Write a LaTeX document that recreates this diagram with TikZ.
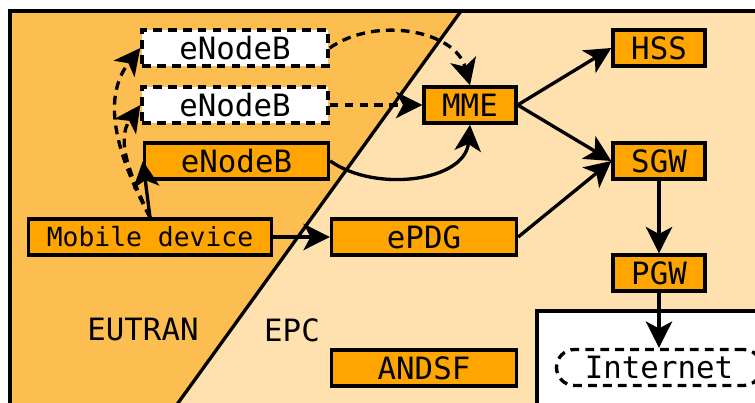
\documentclass[tikz,border=0pt]{standalone}
\usepackage{fontspec}
\setmainfont{DejaVu Sans Mono}
\usepackage{xcolor}
\usetikzlibrary{arrows.meta,positioning}

\definecolor{eutranbg}{RGB}{252,190,80}
\definecolor{epcbg}{RGB}{255,225,175}
\definecolor{nodeorange}{RGB}{255,165,0}

\begin{document}
\begin{tikzpicture}[
  >={Stealth[length=15pt,width=15pt,inset=4pt]},
  box/.style={draw, line width=1.9pt, fill=nodeorange, inner sep=0pt,
              minimum height=0.72cm, font=\fontsize{17.5}{20}\selectfont},
  ghost/.style={box, fill=white, dash pattern=on 5pt off 3.5pt},
  link/.style={->, line width=1.9pt},
  dlink/.style={link, dash pattern=on 5pt off 3.5pt},
  lbl/.style={font=\fontsize{17.5}{20}\selectfont}
]

%% ── Canvas: 1 px = 0.02 cm ───────────────────────────────────────────────────
% frame: left x=0.20, top y=7.84 ; diagonal (9.22,7.84) -- (3.20,-0.50)
\useasboundingbox (0,0) rectangle (15.10,8.06);
\clip (0,0) rectangle (15.10,8.06);

%% ── Domains ──────────────────────────────────────────────────────────────────
\fill[eutranbg] (0.20,-0.50) -- (0.20,7.84) -- (9.22,7.84) -- (3.20,-0.50) -- cycle;
\fill[epcbg]    (9.22,7.84) -- (15.60,7.84) -- (15.60,-0.50) -- (3.20,-0.50) -- cycle;
\draw[line width=1.9pt] (9.22,7.84) -- (3.20,-0.50);
\filldraw[fill=white, line width=1.9pt] (10.74,-0.50) rectangle (15.60,1.84);
\draw[line width=1.9pt] (0.20,-0.50) rectangle (15.60,7.84);

\node[lbl] (eutran) at (2.86,1.46) {EUTRAN};
\node[lbl] (epc)    at (5.84,1.46) {EPC};

%% ── Radio side ───────────────────────────────────────────────────────────────
\node[ghost, minimum width=3.72cm] (enbA) at (4.70,7.10) {eNodeB};
\node[ghost, minimum width=3.72cm] (enbB) at (4.70,5.96) {eNodeB};
\node[box,   minimum width=3.68cm] (enbC) at (4.73,4.84) {eNodeB};
\node[box,   minimum width=4.86cm, font=\fontsize{15}{18}\selectfont]
  (mobile) at (3.00,3.32) {Mobile device};

%% ── Core ─────────────────────────────────────────────────────────────────────
\node[box, minimum width=3.70cm] (epdg)  at (8.48,3.32) {ePDG};
\node[box, minimum width=1.84cm] (mme)   at (9.40,5.96) {MME};
\node[box, minimum width=1.84cm] (hss)   at (13.18,7.10) {HSS};
\node[box, minimum width=1.84cm] (sgw)   at (13.18,4.84) {SGW};
\node[box, minimum width=1.84cm] (pgw)   at (13.18,2.60) {PGW};
\node[box, minimum width=3.70cm] (andsf) at (8.48,0.70) {ANDSF};
\node[ghost, minimum width=4.10cm, rounded corners=0.36cm]
  (inet) at (13.18,0.71) {Internet};

%% ── Links ────────────────────────────────────────────────────────────────────
\draw[dlink] (mobile.north) to[out=118, in=232] (enbA.west);
\draw[dlink] (mobile.north) to[out=115, in=235] (enbB.west);
\draw[link]  (mobile.north) -- (enbC.west);

\draw[dlink] (enbA.east) to[out=35, in=105] (mme.north);
\draw[dlink] (enbB) -- (mme);
\draw[link]  (enbC.east) to[out=-35, in=-95] (mme.south);

\draw[link] (mobile) -- (epdg);
\draw[link] (mme.east)  -- (hss.west);
\draw[link] (mme.east)  -- (sgw.west);
\draw[link] (epdg.east) -- (sgw.west);
\draw[link] (sgw) -- (pgw);
\draw[link] (pgw) -- (inet);

\end{tikzpicture}
\end{document}
